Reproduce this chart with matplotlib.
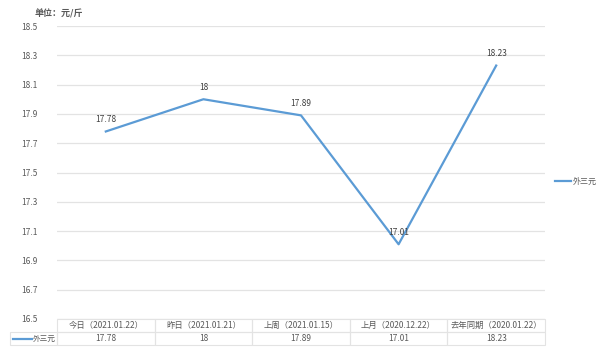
import matplotlib.pyplot as plt
from matplotlib.lines import Line2D
from matplotlib.patches import Rectangle
import matplotlib.transforms as mtransforms

plt.rcParams['font.family'] = ['Noto Sans CJK SC', 'DejaVu Sans']

categories = ['今日（2021.01.22）', '昨日（2021.01.21）', '上周（2021.01.15）',
              '上月（2020.12.22）', '去年同期（2020.01.22）']
values = [17.78, 18, 17.89, 17.01, 18.23]
value_labels = ['17.78', '18', '17.89', '17.01', '18.23']
series_name = '外三元'
yticks = [16.5, 16.7, 16.9, 17.1, 17.3, 17.5, 17.7, 17.9, 18.1, 18.3, 18.5]
unit_text = '单位：元/斤'

blue = '#5b9bd5'
grey = '#595959'
grid = '#e3e3e3'

fig = plt.figure(figsize=(6, 3.48), dpi=100)
ax = fig.add_axes([57 / 600, 1 - 319 / 348, 488 / 600, 293 / 348])

x = list(range(len(values)))
ax.plot(x, values, color=blue, lw=1.6)
for xi, v, lab in zip(x, values, value_labels):
    ax.annotate(lab, (xi, v), xytext=(0, 8.5), textcoords='offset points',
                ha='center', va='center', fontsize=6, color='#404040')

ax.set_xlim(-0.5, len(values) - 0.5)
ax.set_ylim(16.5, 18.5)
ax.set_yticks(yticks)
ax.set_yticklabels([f'{t:.1f}' for t in yticks], fontsize=6, color=grey)
ax.set_xticks([])
ax.tick_params(axis='y', length=0, pad=14)
ax.grid(axis='y', color=grid, lw=0.9)
ax.set_axisbelow(True)
for s in ax.spines.values():
    s.set_visible(False)

fig.text(35 / 600, 1 - 14 / 348, unit_text, fontsize=6.5, color=grey,
         ha='left', va='center', weight='bold')

# data table under the plot
trans = mtransforms.blended_transform_factory(ax.transData, ax.transAxes)
row_h = 13 / 293
for xi, cat, lab in zip(x, categories, value_labels):
    for r, txt in enumerate([cat, lab]):
        y0 = -(r + 1) * row_h
        ax.add_patch(Rectangle((xi - 0.5, y0), 1, row_h, transform=trans,
                               fill=False, ec=grid, lw=0.8, clip_on=False))
        ax.text(xi, y0 + row_h / 2, txt, transform=trans, ha='center',
                va='center', fontsize=6, color=grey, clip_on=False)

# row label cell with legend key
fig.add_artist(Rectangle((10 / 600, 1 - 345 / 348), 47 / 600, 13 / 348,
                         transform=fig.transFigure, fill=False, ec=grid, lw=0.8))
fig.add_artist(Line2D([13 / 600, 32 / 600], [1 - 338.5 / 348] * 2,
                      transform=fig.transFigure, color=blue, lw=1.6))
fig.text(33 / 600, 1 - 338.5 / 348, series_name, fontsize=5.5, color=grey,
         ha='left', va='center')

# legend on the right
handle = Line2D([], [], color=blue, lw=1.6)
fig.legend([handle], [series_name], loc='center left',
           bbox_to_anchor=(555 / 600, 1 - 181 / 348), frameon=False,
           fontsize=5.8, handlelength=2.0, handletextpad=0.2,
           labelcolor=grey, borderpad=0, borderaxespad=0)

fig.savefig('out.png', dpi=100, facecolor='white')
